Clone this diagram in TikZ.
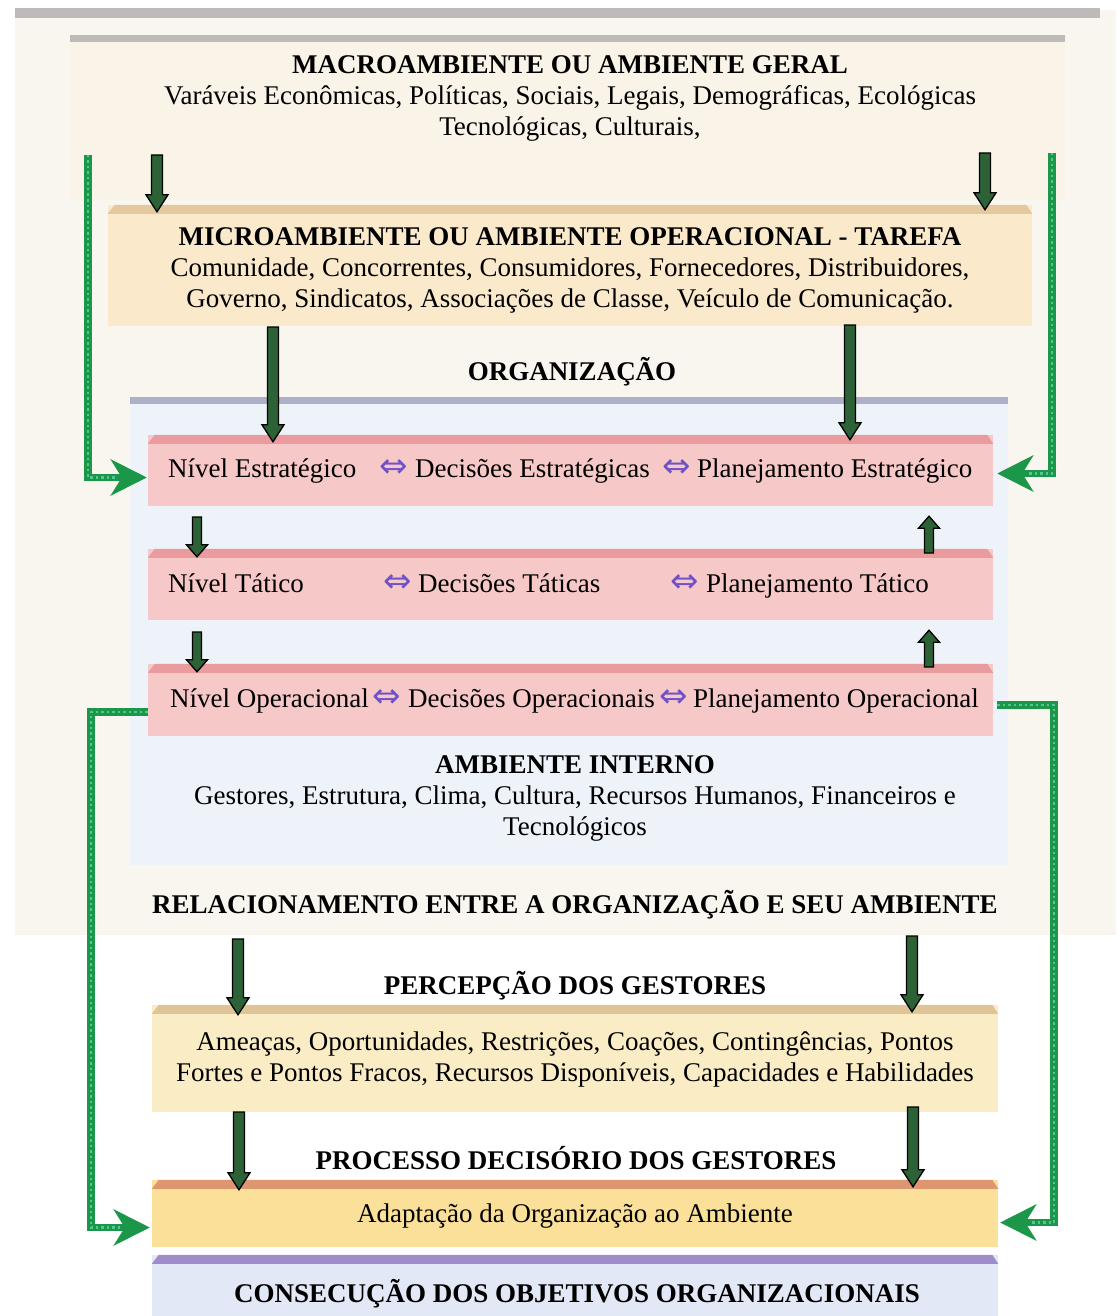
\documentclass[tikz,border=0pt]{standalone}
\usepackage{fontspec}
\setmainfont{Liberation Serif}
\newfontfamily\symfont{DejaVu Sans}
\usetikzlibrary{arrows.meta,calc}

\definecolor{pagecream}{RGB}{249,246,239}
\definecolor{topgray}{RGB}{190,186,186}
\definecolor{macrofill}{RGB}{250,244,232}
\definecolor{microfill}{RGB}{250,233,203}
\definecolor{microtop}{RGB}{228,200,158}
\definecolor{orgfill}{RGB}{238,242,249}
\definecolor{orgtop}{RGB}{172,176,200}
\definecolor{lvlfill}{RGB}{246,200,200}
\definecolor{lvltop}{RGB}{234,155,158}
\definecolor{percfill}{RGB}{250,236,196}
\definecolor{perctop}{RGB}{222,196,150}
\definecolor{adaptfill}{RGB}{250,224,152}
\definecolor{adapttop}{RGB}{222,150,112}
\definecolor{consfill}{RGB}{226,232,246}
\definecolor{constop}{RGB}{160,140,202}
\definecolor{arrowgreen}{RGB}{44,98,54}
\definecolor{fbgreen}{RGB}{28,150,72}
\definecolor{fbteal}{RGB}{80,200,150}
\definecolor{dblpurple}{RGB}{112,82,200}

% top strip with cut corners on a box node
\newcommand\bevel[2]{%
  \fill[#2] ($(#1.north west)+(0,9)$) -- ($(#1.north west)+(7,0)$)
     -- ($(#1.north east)+(-6,0)$) -- ($(#1.north east)+(0,9)$) -- cycle;}

\tikzset{
  box/.style={rectangle, inner sep=0, draw=none},
  txt/.style={font=\fontsize{27}{31}\selectfont, align=center, inner sep=0, yshift=-2.5pt},
  ttl/.style={font=\fontsize{27}{31}\selectfont\bfseries, align=center, inner sep=0, yshift=-2.5pt},
  lvl/.style={font=\fontsize{27}{31}\selectfont, inner sep=0, text height=19pt, text depth=7pt, anchor=west, yshift=-2.5pt},
  dbl/.style={font=\symfont\fontsize{34}{36}\selectfont, text=dblpurple, inner sep=0, text height=19pt, text depth=7pt, anchor=west, yshift=-2.5pt},
  barrow/.style n args={3}{to path={let \p1=(\tikztostart), \p2=(\tikztotarget),
      \n1={sign(\y2-\y1)} in
      (\x1-#1,\y1) -- (\x1-#1,{\y2-\n1*#3}) -- (\x1-#2,{\y2-\n1*#3}) -- (\x1,\y2)
      -- (\x1+#2,{\y2-\n1*#3}) -- (\x1+#1,{\y2-\n1*#3}) -- (\x1+#1,\y1) -- cycle}},
  blk/.style={draw=black, line width=1.3pt, fill=arrowgreen, line join=miter},
  bigarrow/.style={blk, barrow={5.5pt}{11pt}{17pt}},
  smallarrow/.style={blk, barrow={4.5pt}{10.5pt}{12pt}},
  fb/.style={draw=fbgreen, line width=7.5pt, line join=miter,
    -{Stealth[length=36pt, width=36pt, inset=11pt, fill=fbgreen]}},
  fbdots/.style={draw=fbteal, line width=2.5pt, dash pattern=on 2.5pt off 3pt, shorten >=30pt},
}

\begin{document}
\begin{tikzpicture}[x=1pt, y=-1pt]
\useasboundingbox (0,0) rectangle (1116,1316);

% background sheet and nested panels
\fill[pagecream] (15,10) rectangle (1116,935);
\fill[topgray] (15,8) rectangle (1100,18);
\node[box, fill=macrofill, minimum width=995, minimum height=165] (macro) at (567.5,117.5) {};
\fill[topgray] (macro.north west) rectangle ($(macro.north east)+(0,7)$);
\node[box, fill=microfill, minimum width=924, minimum height=121] (micro) at (570,265.5) {};
\bevel{micro}{microtop}
\node[box, fill=orgfill, minimum width=878, minimum height=468] (org) at (569,631) {};
\fill[orgtop] (org.north west) rectangle ($(org.north east)+(0,7)$);

% management levels
\node[box, fill=lvlfill, minimum width=845, minimum height=71] (est) at (570.5,470.5) {};
\bevel{est}{lvltop}
\node[box, fill=lvlfill, minimum width=845, minimum height=71] (tat) at (570.5,584.5) {};
\bevel{tat}{lvltop}
\node[box, fill=lvlfill, minimum width=845, minimum height=72] (ope) at (570.5,700) {};
\bevel{ope}{lvltop}

% lower chain
\node[box, fill=percfill, minimum width=846, minimum height=107] (perc) at (575,1058.5) {};
\bevel{perc}{perctop}
\node[box, fill=adaptfill, minimum width=846, minimum height=67] (adapt) at (575,1213.5) {};
\bevel{adapt}{adapttop}
\node[box, fill=consfill, minimum width=846, minimum height=61] (cons) at (575,1285.5) {};
\bevel{cons}{constop}

% texts
\node[txt] (macrotxt) at (570,96) {\textbf{MACROAMBIENTE OU AMBIENTE GERAL}\\
  Varáveis Econômicas, Políticas, Sociais, Legais, Demográficas, Ecológicas\\
  Tecnológicas, Culturais,};
\node[txt] (microtxt) at (570,268) {\textbf{MICROAMBIENTE OU AMBIENTE OPERACIONAL - TAREFA}\\
  Comunidade, Concorrentes, Consumidores, Fornecedores, Distribuidores,\\
  Governo, Sindicatos, Associações de Classe, Veículo de Comunicação.};
\node[ttl] (orgtxt) at (572,369) {ORGANIZAÇÃO};

\node[lvl] (e1) at (168,469) {Nível Estratégico};
\node[dbl] (e2) at (379,469) {⇔};
\node[lvl] (e3) at (415,469) {Decisões Estratégicas};
\node[dbl] (e4) at (662,469) {⇔};
\node[lvl] (e5) at (697,469) {Planejamento Estratégico};

\node[lvl] (t1) at (168,584) {Nível Tático};
\node[dbl] (t2) at (383,584) {⇔};
\node[lvl] (t3) at (418,584) {Decisões Táticas};
\node[dbl] (t4) at (670,584) {⇔};
\node[lvl] (t5) at (706,584) {Planejamento Tático};

\node[lvl] (o1) at (170,699) {Nível Operacional};
\node[dbl] (o2) at (372,699) {⇔};
\node[lvl] (o3) at (408,699) {Decisões Operacionais};
\node[dbl] (o4) at (659,699) {⇔};
\node[lvl] (o5) at (693,699) {Planejamento Operacional};

\node[txt] (inttxt) at (575,796) {\textbf{AMBIENTE INTERNO}\\
  Gestores, Estrutura, Clima, Cultura, Recursos Humanos, Financeiros e\\
  Tecnológicos};
\node[ttl] (reltxt) at (575,902) {RELACIONAMENTO ENTRE A ORGANIZAÇÃO E SEU AMBIENTE};
\node[ttl] (perctit) at (575,983) {PERCEPÇÃO DOS GESTORES};
\node[txt] (perctxt) at (575,1057) {Ameaças, Oportunidades, Restrições, Coações, Contingências, Pontos\\
  Fortes e Pontos Fracos, Recursos Disponíveis, Capacidades e Habilidades};
\node[ttl] (proctit) at (576,1156) {PROCESSO DECISÓRIO DOS GESTORES};
\node[txt] (adapttxt) at (575,1214) {Adaptação da Organização ao Ambiente};
\node[ttl] (constxt) at (577,1291) {CONSECUÇÃO DOS OBJETIVOS ORGANIZACIONAIS};

% block arrows between the layers
\coordinate (a1) at (157,155);
\coordinate (a2) at (985,153);
\coordinate (a3) at (273,327);
\coordinate (a4) at (850,325);
\coordinate (a5) at (197,517);
\coordinate (a6) at (197,632);
\coordinate (a7) at (929,553);
\coordinate (a8) at (929,667);
\coordinate (a9) at (238,939);
\coordinate (a10) at (912,936);
\coordinate (a11) at (239,1112);
\coordinate (a12) at (913,1107);

\draw[bigarrow] (a1) to ($(micro.north -| a1)+(0,7)$);
\draw[bigarrow] (a2) to ($(micro.north -| a2)+(0,5)$);
\draw[bigarrow] (a3) to ($(est.north -| a3)+(0,7)$);
\draw[bigarrow] (a4) to ($(est.north -| a4)+(0,5)$);
\draw[smallarrow] (a5) to ($(tat.north -| a5)+(0,8)$);
\draw[smallarrow] (a6) to ($(ope.north -| a6)+(0,8)$);
\draw[smallarrow] (a7) to ($(est.south -| a7)+(0,10)$);
\draw[smallarrow] (a8) to ($(tat.south -| a8)+(0,10)$);
\draw[bigarrow] (a9) to ($(perc.north -| a9)+(0,10)$);
\draw[bigarrow] (a10) to ($(perc.north -| a10)+(0,7)$);
\draw[bigarrow] (a11) to ($(adapt.north -| a11)+(0,10)$);
\draw[bigarrow] (a12) to ($(adapt.north -| a12)+(0,7)$);

% feedback loops from the environment and from operations
\coordinate (f1) at (88,155);
\coordinate (f2) at (1052,153);
\draw[fb] (f1) |- ($(est.west)+(-1,7)$);
\draw[fbdots] (f1) |- ($(est.west)+(-1,7)$);
\draw[fb] (f2) |- ($(est.east)+(4,3)$);
\draw[fbdots] (f2) |- ($(est.east)+(4,3)$);
\draw[fb] ($(ope.west)+(0,12)$) -- ++(-57,0) |- ($(adapt.west)+(-2,14)$);
\draw[fbdots] ($(ope.west)+(0,12)$) -- ++(-57,0) |- ($(adapt.west)+(-2,14)$);
\draw[fb] ($(ope.east)+(4,5)$) -- ++(57,0) |- ($(adapt.east)+(2,9)$);
\draw[fbdots] ($(ope.east)+(4,5)$) -- ++(57,0) |- ($(adapt.east)+(2,9)$);
\end{tikzpicture}
\end{document}
